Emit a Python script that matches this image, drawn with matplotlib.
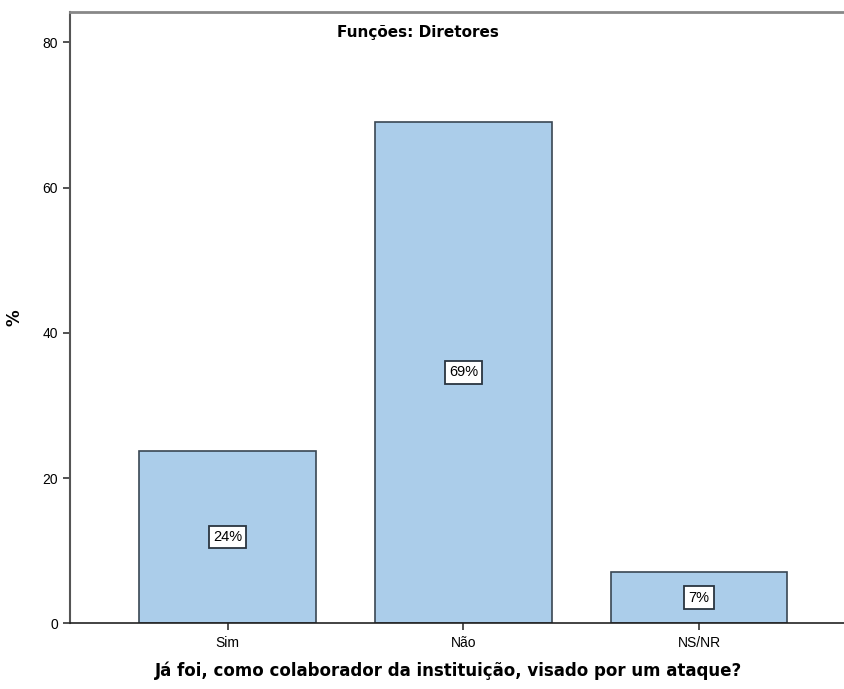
import matplotlib.pyplot as plt

# dados
categorias = ['Sim', 'Não', 'NS/NR']
valores = [23.8, 69.1, 7.1]
rotulos = ['24%', '69%', '7%']

fig = plt.figure(figsize=(8.45, 6.89), dpi=100)
ax = fig.add_axes([70/845, 1 - 623.3/689, 1 - 70/845, (623.3 - 12)/689])

x = range(len(categorias))
bars = ax.bar(x, valores, width=0.75, color='#abcdea', edgecolor='#3a4753', linewidth=1.2, zorder=2)

for rect, txt in zip(bars, rotulos):
    ax.text(rect.get_x() + rect.get_width() / 2, rect.get_height() / 2, txt,
            ha='center', va='center', fontsize=10.5, family='Liberation Sans',
            bbox=dict(boxstyle='square,pad=0.28', fc='white', ec='#2a3540', lw=1.3))

ax.set_xlim(-0.67, 2.62)
ax.set_ylim(0, 84.2)
ax.set_yticks([0, 20, 40, 60, 80])
ax.set_xticks(list(x))
ax.set_xticklabels(categorias)
for lab in ax.get_xticklabels() + ax.get_yticklabels():
    lab.set_family('Liberation Sans')
    lab.set_fontsize(10)
ax.tick_params(direction='out', length=5, width=1.2, colors='#333333', labelcolor='black')
ax.tick_params(axis='x', pad=4)

ax.spines['right'].set_visible(False)
ax.spines['top'].set_color('#888888')
ax.spines['top'].set_linewidth(2)
ax.spines['left'].set_color('#555555')
ax.spines['left'].set_linewidth(1.5)
ax.spines['bottom'].set_color('#222222')
ax.spines['bottom'].set_linewidth(1.2)

ax.set_ylabel('%', fontsize=12, fontweight='bold', labelpad=14)
ax.set_xlabel('Já foi, como colaborador da instituição, visado por um ataque?',
              fontsize=12, fontweight='bold')
ax.xaxis.set_label_coords((449 - 70) / 775, -0.063)

fig.text(418/845, 1 - 33/689, 'Funções: Diretores', ha='center', va='center',
         fontsize=11, fontweight='bold', family=['Liberation Sans Narrow', 'DejaVu Sans'])

fig.savefig('out.png', dpi=100)
